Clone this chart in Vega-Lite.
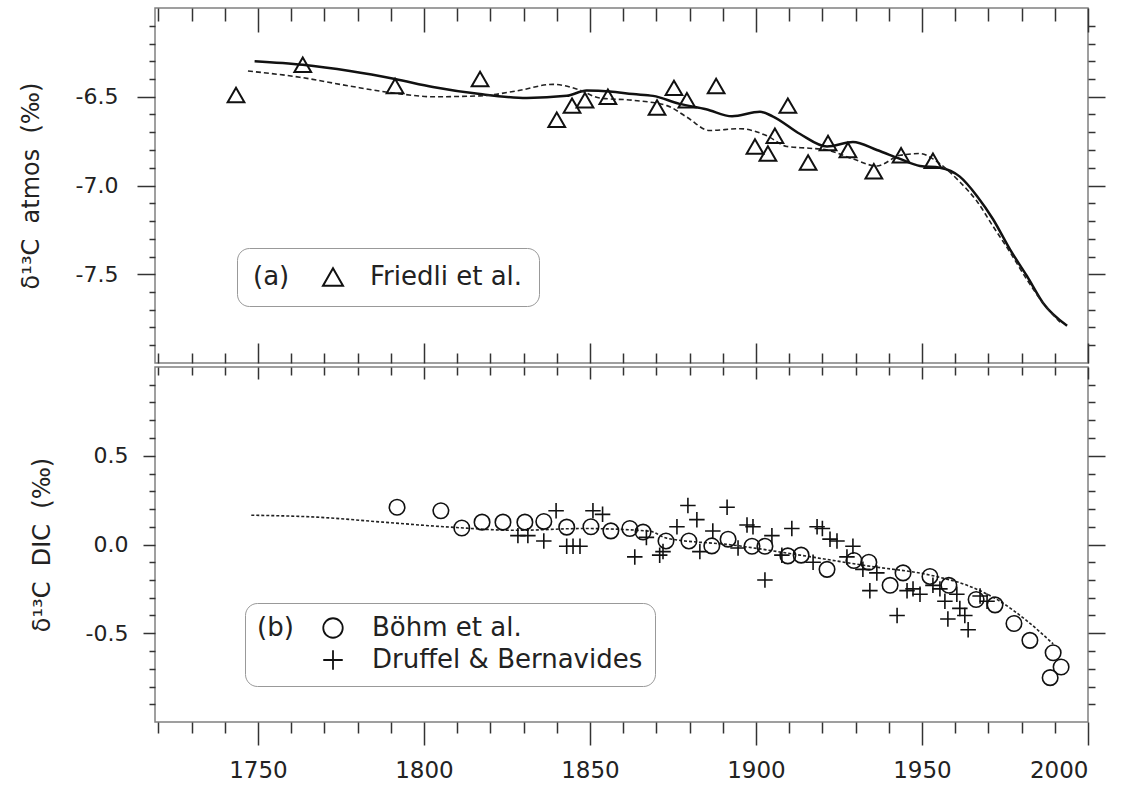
{
  "$schema": "https://vega.github.io/schema/vega-lite/v6.json",
  "background": "white",
  "padding": {"left": 18, "top": 6, "right": 10, "bottom": 0},
  "spacing": 0,
  "resolve": {"scale": {"shape": "independent"}, "legend": {"shape": "independent"}},
  "config": {
    "view": {"stroke": "#808080", "strokeWidth": 1.5},
    "concat": {"spacing": 0},
    "axis": {
      "domain": false, "grid": false, "tickColor": "#333", "tickWidth": 1.5,
      "labelFont": "DejaVu Sans", "labelFontSize": 22, "labelColor": "#222",
      "titleFont": "DejaVu Sans", "titleFontSize": 24, "titleFontWeight": "normal", "titleColor": "#222",
      "labelOverlap": false
    },
    "legend": {
      "labelFont": "DejaVu Sans", "labelFontSize": 26, "labelColor": "#222", "labelLimit": 500,
      "titleFont": "DejaVu Sans", "titleFontSize": 26, "titleFontWeight": "normal", "titleColor": "#222",
      "titleOrient": "left", "titleAnchor": "start", "titleBaseline": "top",
      "strokeColor": "#999", "cornerRadius": 12, "orient": "none"
    }
  },
  "datasets": {
    "atmos_solid": [
      {"year": 1749, "d13c": -6.30}, {"year": 1763.5, "d13c": -6.32}, {"year": 1777.7, "d13c": -6.355},
      {"year": 1791.3, "d13c": -6.40}, {"year": 1802.7, "d13c": -6.445}, {"year": 1816.9, "d13c": -6.485},
      {"year": 1831, "d13c": -6.507}, {"year": 1843, "d13c": -6.495}, {"year": 1849, "d13c": -6.465},
      {"year": 1856, "d13c": -6.47}, {"year": 1863, "d13c": -6.485}, {"year": 1869, "d13c": -6.495},
      {"year": 1877, "d13c": -6.54}, {"year": 1885, "d13c": -6.57}, {"year": 1892.8, "d13c": -6.61},
      {"year": 1901.2, "d13c": -6.585}, {"year": 1905, "d13c": -6.61}, {"year": 1913.3, "d13c": -6.71},
      {"year": 1921.4, "d13c": -6.78}, {"year": 1929.2, "d13c": -6.755}, {"year": 1936.4, "d13c": -6.80},
      {"year": 1943.4, "d13c": -6.85}, {"year": 1949.4, "d13c": -6.89}, {"year": 1955.4, "d13c": -6.90},
      {"year": 1961.4, "d13c": -6.95}, {"year": 1966.6, "d13c": -7.06}, {"year": 1971.4, "d13c": -7.19},
      {"year": 1976.5, "d13c": -7.36}, {"year": 1981.6, "d13c": -7.51}, {"year": 1986.4, "d13c": -7.66},
      {"year": 1993.7, "d13c": -7.79}
    ],
    "atmos_dashed": [
      {"year": 1747, "d13c": -6.355}, {"year": 1762.6, "d13c": -6.39}, {"year": 1777.7, "d13c": -6.44},
      {"year": 1791.3, "d13c": -6.48}, {"year": 1802.7, "d13c": -6.50}, {"year": 1816.9, "d13c": -6.495},
      {"year": 1828, "d13c": -6.467}, {"year": 1838.9, "d13c": -6.43}, {"year": 1846, "d13c": -6.456},
      {"year": 1853, "d13c": -6.507}, {"year": 1863, "d13c": -6.52}, {"year": 1873.2, "d13c": -6.55},
      {"year": 1879.2, "d13c": -6.615}, {"year": 1886, "d13c": -6.69}, {"year": 1895.2, "d13c": -6.68},
      {"year": 1903.3, "d13c": -6.72}, {"year": 1909.3, "d13c": -6.78}, {"year": 1916, "d13c": -6.79},
      {"year": 1921.4, "d13c": -6.80}, {"year": 1929.2, "d13c": -6.85}, {"year": 1936.4, "d13c": -6.89},
      {"year": 1943.4, "d13c": -6.83}, {"year": 1949.4, "d13c": -6.82}, {"year": 1953.3, "d13c": -6.85},
      {"year": 1957.5, "d13c": -6.91}, {"year": 1961.4, "d13c": -6.98}, {"year": 1966.6, "d13c": -7.09},
      {"year": 1971.4, "d13c": -7.23}, {"year": 1976.5, "d13c": -7.375}, {"year": 1981.6, "d13c": -7.53},
      {"year": 1986.4, "d13c": -7.66}, {"year": 1991.6, "d13c": -7.77}
    ],
    "friedli": [
      {"year": 1743.4, "d13c": -6.49, "source": "Friedli et al."},
      {"year": 1763.5, "d13c": -6.32, "source": "Friedli et al."},
      {"year": 1791.3, "d13c": -6.44, "source": "Friedli et al."},
      {"year": 1816.9, "d13c": -6.40, "source": "Friedli et al."},
      {"year": 1840.0, "d13c": -6.63, "source": "Friedli et al."},
      {"year": 1844.6, "d13c": -6.55, "source": "Friedli et al."},
      {"year": 1848.5, "d13c": -6.52, "source": "Friedli et al."},
      {"year": 1855.4, "d13c": -6.50, "source": "Friedli et al."},
      {"year": 1870.2, "d13c": -6.56, "source": "Friedli et al."},
      {"year": 1875.3, "d13c": -6.45, "source": "Friedli et al."},
      {"year": 1879.2, "d13c": -6.52, "source": "Friedli et al."},
      {"year": 1888.0, "d13c": -6.44, "source": "Friedli et al."},
      {"year": 1909.6, "d13c": -6.55, "source": "Friedli et al."},
      {"year": 1899.7, "d13c": -6.78, "source": "Friedli et al."},
      {"year": 1903.6, "d13c": -6.82, "source": "Friedli et al."},
      {"year": 1905.7, "d13c": -6.72, "source": "Friedli et al."},
      {"year": 1915.7, "d13c": -6.87, "source": "Friedli et al."},
      {"year": 1921.7, "d13c": -6.76, "source": "Friedli et al."},
      {"year": 1927.7, "d13c": -6.80, "source": "Friedli et al."},
      {"year": 1935.5, "d13c": -6.92, "source": "Friedli et al."},
      {"year": 1943.7, "d13c": -6.83, "source": "Friedli et al."},
      {"year": 1953.3, "d13c": -6.86, "source": "Friedli et al."}
    ],
    "dic_model": [
      {"year": 1748, "dic": 0.165}, {"year": 1767.8, "dic": 0.154}, {"year": 1787.7, "dic": 0.126},
      {"year": 1807.8, "dic": 0.098}, {"year": 1828, "dic": 0.08}, {"year": 1847.9, "dic": 0.09},
      {"year": 1868, "dic": 0.075}, {"year": 1873, "dic": 0.036}, {"year": 1893, "dic": -0.003},
      {"year": 1913.3, "dic": -0.06}, {"year": 1933.4, "dic": -0.12}, {"year": 1953.3, "dic": -0.176},
      {"year": 1963.6, "dic": -0.23}, {"year": 1973.5, "dic": -0.32}, {"year": 1981.6, "dic": -0.43},
      {"year": 1989.5, "dic": -0.56}
    ],
    "dic_obs": [
      {"year": 1791.9, "dic": 0.21, "source": "Böhm et al."},
      {"year": 1805.1, "dic": 0.19, "source": "Böhm et al."},
      {"year": 1811.4, "dic": 0.093, "source": "Böhm et al."},
      {"year": 1817.5, "dic": 0.126, "source": "Böhm et al."},
      {"year": 1823.8, "dic": 0.126, "source": "Böhm et al."},
      {"year": 1830.4, "dic": 0.126, "source": "Böhm et al."},
      {"year": 1836.1, "dic": 0.13, "source": "Böhm et al."},
      {"year": 1843.0, "dic": 0.098, "source": "Böhm et al."},
      {"year": 1850.3, "dic": 0.10, "source": "Böhm et al."},
      {"year": 1856.3, "dic": 0.077, "source": "Böhm et al."},
      {"year": 1862.0, "dic": 0.09, "source": "Böhm et al."},
      {"year": 1866.0, "dic": 0.07, "source": "Böhm et al."},
      {"year": 1872.9, "dic": 0.02, "source": "Böhm et al."},
      {"year": 1879.8, "dic": 0.02, "source": "Böhm et al."},
      {"year": 1886.7, "dic": -0.008, "source": "Böhm et al."},
      {"year": 1891.6, "dic": 0.03, "source": "Böhm et al."},
      {"year": 1898.8, "dic": -0.01, "source": "Böhm et al."},
      {"year": 1902.7, "dic": -0.01, "source": "Böhm et al."},
      {"year": 1909.6, "dic": -0.064, "source": "Böhm et al."},
      {"year": 1913.6, "dic": -0.06, "source": "Böhm et al."},
      {"year": 1921.4, "dic": -0.14, "source": "Böhm et al."},
      {"year": 1929.5, "dic": -0.09, "source": "Böhm et al."},
      {"year": 1934.0, "dic": -0.10, "source": "Böhm et al."},
      {"year": 1940.4, "dic": -0.23, "source": "Böhm et al."},
      {"year": 1944.3, "dic": -0.16, "source": "Böhm et al."},
      {"year": 1952.4, "dic": -0.18, "source": "Böhm et al."},
      {"year": 1958.1, "dic": -0.23, "source": "Böhm et al."},
      {"year": 1966.3, "dic": -0.31, "source": "Böhm et al."},
      {"year": 1972.0, "dic": -0.34, "source": "Böhm et al."},
      {"year": 1977.7, "dic": -0.445, "source": "Böhm et al."},
      {"year": 1982.5, "dic": -0.54, "source": "Böhm et al."},
      {"year": 1989.5, "dic": -0.61, "source": "Böhm et al."},
      {"year": 1991.9, "dic": -0.69, "source": "Böhm et al."},
      {"year": 1988.6, "dic": -0.75, "source": "Böhm et al."},
      {"year": 1839.8, "dic": 0.19, "source": "Druffel & Bernavides"},
      {"year": 1828.3, "dic": 0.05, "source": "Druffel & Bernavides"},
      {"year": 1831.3, "dic": 0.05, "source": "Druffel & Bernavides"},
      {"year": 1836.1, "dic": 0.02, "source": "Druffel & Bernavides"},
      {"year": 1843.0, "dic": -0.01, "source": "Druffel & Bernavides"},
      {"year": 1844.9, "dic": -0.01, "source": "Druffel & Bernavides"},
      {"year": 1847.0, "dic": -0.01, "source": "Druffel & Bernavides"},
      {"year": 1850.9, "dic": 0.19, "source": "Druffel & Bernavides"},
      {"year": 1853.8, "dic": 0.17, "source": "Druffel & Bernavides"},
      {"year": 1863.5, "dic": -0.07, "source": "Druffel & Bernavides"},
      {"year": 1867.0, "dic": 0.04, "source": "Druffel & Bernavides"},
      {"year": 1871.0, "dic": -0.06, "source": "Druffel & Bernavides"},
      {"year": 1872.0, "dic": -0.04, "source": "Druffel & Bernavides"},
      {"year": 1876.2, "dic": 0.10, "source": "Druffel & Bernavides"},
      {"year": 1879.5, "dic": 0.22, "source": "Druffel & Bernavides"},
      {"year": 1882.2, "dic": 0.14, "source": "Druffel & Bernavides"},
      {"year": 1883.1, "dic": -0.04, "source": "Druffel & Bernavides"},
      {"year": 1887.0, "dic": 0.076, "source": "Druffel & Bernavides"},
      {"year": 1891.3, "dic": 0.21, "source": "Druffel & Bernavides"},
      {"year": 1897.3, "dic": 0.11, "source": "Druffel & Bernavides"},
      {"year": 1899.1, "dic": 0.10, "source": "Druffel & Bernavides"},
      {"year": 1894.6, "dic": -0.02, "source": "Druffel & Bernavides"},
      {"year": 1902.7, "dic": -0.20, "source": "Druffel & Bernavides"},
      {"year": 1904.8, "dic": 0.05, "source": "Druffel & Bernavides"},
      {"year": 1907.8, "dic": -0.06, "source": "Druffel & Bernavides"},
      {"year": 1910.8, "dic": 0.09, "source": "Druffel & Bernavides"},
      {"year": 1918.4, "dic": 0.10, "source": "Druffel & Bernavides"},
      {"year": 1920.0, "dic": 0.09, "source": "Druffel & Bernavides"},
      {"year": 1922.3, "dic": 0.03, "source": "Druffel & Bernavides"},
      {"year": 1924.4, "dic": 0.02, "source": "Druffel & Bernavides"},
      {"year": 1917.2, "dic": -0.10, "source": "Druffel & Bernavides"},
      {"year": 1929.2, "dic": -0.01, "source": "Druffel & Bernavides"},
      {"year": 1927.4, "dic": -0.07, "source": "Druffel & Bernavides"},
      {"year": 1932.2, "dic": -0.14, "source": "Druffel & Bernavides"},
      {"year": 1934.3, "dic": -0.26, "source": "Druffel & Bernavides"},
      {"year": 1936.4, "dic": -0.16, "source": "Druffel & Bernavides"},
      {"year": 1942.5, "dic": -0.40, "source": "Druffel & Bernavides"},
      {"year": 1945.5, "dic": -0.26, "source": "Druffel & Bernavides"},
      {"year": 1947.3, "dic": -0.25, "source": "Druffel & Bernavides"},
      {"year": 1949.4, "dic": -0.28, "source": "Druffel & Bernavides"},
      {"year": 1953.3, "dic": -0.23, "source": "Druffel & Bernavides"},
      {"year": 1955.4, "dic": -0.25, "source": "Druffel & Bernavides"},
      {"year": 1956.9, "dic": -0.32, "source": "Druffel & Bernavides"},
      {"year": 1957.8, "dic": -0.42, "source": "Druffel & Bernavides"},
      {"year": 1960.5, "dic": -0.28, "source": "Druffel & Bernavides"},
      {"year": 1961.4, "dic": -0.36, "source": "Druffel & Bernavides"},
      {"year": 1962.9, "dic": -0.40, "source": "Druffel & Bernavides"},
      {"year": 1963.9, "dic": -0.48, "source": "Druffel & Bernavides"},
      {"year": 1969.6, "dic": -0.32, "source": "Druffel & Bernavides"},
      {"year": 1967.5, "dic": -0.29, "source": "Druffel & Bernavides"}
    ]
  },
  "vconcat": [
    {
      "width": 933,
      "height": 355,
      "layer": [
        {
          "data": {"name": "atmos_solid"},
          "mark": {"type": "line", "interpolate": "monotone", "color": "#111", "strokeWidth": 2.5},
          "encoding": {
            "x": {"field": "year", "type": "quantitative",
              "scale": {"domain": [1719, 2000], "nice": false, "zero": false},
              "axis": {"orient": "bottom", "title": null, "labels": false, "minExtent": 0, "maxExtent": 0,
                "values": [1720,1730,1740,1750,1760,1770,1780,1790,1800,1810,1820,1830,1840,1850,1860,1870,1880,1890,1900,1910,1920,1930,1940,1950,1960,1970,1980,1990,2000],
                "tickSize": {"condition": {"test": "datum.value % 50 === 0", "value": -20}, "value": -10}}},
            "y": {"field": "d13c", "type": "quantitative",
              "scale": {"domain": [-8, -6], "nice": false, "zero": false},
              "axis": {"orient": "left", "title": null, "labels": false, "minExtent": 0,
                "values": [-7.9,-7.8,-7.7,-7.6,-7.5,-7.4,-7.3,-7.2,-7.1,-7,-6.9,-6.8,-6.7,-6.6,-6.5,-6.4,-6.3,-6.2,-6.1],
                "tickSize": {"condition": {"test": "abs(datum.value*2 - round(datum.value*2)) < 0.01", "value": 18}, "value": 6}}}
          }
        },
        {
          "data": {"name": "atmos_dashed"},
          "mark": {"type": "line", "interpolate": "monotone", "color": "#222", "strokeWidth": 1.6, "strokeDash": [5, 3]},
          "encoding": {
            "x": {"field": "year", "type": "quantitative",
              "scale": {"domain": [1719, 2000], "nice": false, "zero": false},
              "axis": {"orient": "top", "title": null, "labels": false, "minExtent": 0, "maxExtent": 0,
                "values": [1720,1730,1740,1750,1760,1770,1780,1790,1800,1810,1820,1830,1840,1850,1860,1870,1880,1890,1900,1910,1920,1930,1940,1950,1960,1970,1980,1990,2000],
                "tickSize": {"condition": {"test": "datum.value % 50 === 0", "value": -24}, "value": -13}}},
            "y": {"field": "d13c", "type": "quantitative",
              "scale": {"domain": [-8, -6], "nice": false, "zero": false},
              "axis": {"orient": "right", "title": null, "labels": false, "minExtent": 0,
                "values": [-7.9,-7.8,-7.7,-7.6,-7.5,-7.4,-7.3,-7.2,-7.1,-7,-6.9,-6.8,-6.7,-6.6,-6.5,-6.4,-6.3,-6.2,-6.1],
                "tickSize": {"condition": {"test": "abs(datum.value*2 - round(datum.value*2)) < 0.01", "value": 17}, "value": 7}}}
          }
        },
        {
          "data": {"name": "friedli"},
          "mark": {"type": "point", "filled": false, "color": "#111", "strokeWidth": 2, "size": 280, "opacity": 1},
          "encoding": {
            "x": {"field": "year", "type": "quantitative", "scale": {"domain": [1719, 2000], "nice": false, "zero": false}, "axis": null},
            "y": {"field": "d13c", "type": "quantitative", "scale": {"domain": [-8, -6], "nice": false, "zero": false},
              "axis": {"orient": "left", "title": "δ¹³C\u00a0\u00a0atmos\u00a0\u00a0(‰)", "titlePadding": 32,
                "ticks": false, "tickSize": 0, "labelPadding": 37, "format": ".1f",
                "values": [-7.5, -7, -6.5],
                "labelExpr": "replace(format(datum.value, '.1f'), '\u2212', '-')"}},
            "shape": {"field": "source", "type": "nominal",
              "scale": {"domain": ["Friedli et al."], "range": ["triangle-up"]},
              "legend": {"title": "(a)", "legendX": 82, "legendY": 240, "padding": 16, "titlePadding": 30,
                "symbolSize": 400, "symbolStrokeWidth": 2, "symbolStrokeColor": "#111", "labelOffset": 24,
                "encode": {"legend": {"update": {"strokeDash": {"value": [3, 3]}}}}}}
          }
        }
      ],
      "resolve": {"axis": {"x": "independent", "y": "independent"}}
    },
    {
      "width": 933,
      "height": 355,
      "layer": [
        {
          "data": {"name": "dic_model"},
          "mark": {"type": "line", "interpolate": "monotone", "color": "#222", "strokeWidth": 1.6, "strokeDash": [3, 2]},
          "encoding": {
            "x": {"field": "year", "type": "quantitative",
              "scale": {"domain": [1719, 2000], "nice": false, "zero": false},
              "axis": {"orient": "bottom", "title": null, "labels": false,
                "values": [1720,1730,1740,1750,1760,1770,1780,1790,1800,1810,1820,1830,1840,1850,1860,1870,1880,1890,1900,1910,1920,1930,1940,1950,1960,1970,1980,1990,2000],
                "tickSize": {"condition": {"test": "datum.value % 50 === 0", "value": 23}, "value": 11}}},
            "y": {"field": "dic", "type": "quantitative",
              "scale": {"domain": [-1, 1], "nice": false, "zero": false},
              "axis": {"orient": "left", "title": null, "labels": false, "minExtent": 0,
                "values": [-0.9,-0.8,-0.7,-0.6,-0.5,-0.4,-0.3,-0.2,-0.1,0,0.1,0.2,0.3,0.4,0.5,0.6,0.7,0.8,0.9],
                "tickSize": {"condition": {"test": "abs(datum.value*2 - round(datum.value*2)) < 0.01", "value": 12}, "value": 6}}}
          }
        },
        {
          "data": {"name": "dic_obs"},
          "mark": {"type": "point", "filled": false, "color": "#111", "strokeWidth": 1.6, "size": 240, "opacity": 1},
          "encoding": {
            "x": {"field": "year", "type": "quantitative",
              "scale": {"domain": [1719, 2000], "nice": false, "zero": false},
              "axis": {"orient": "top", "title": null, "labels": false, "minExtent": 0, "maxExtent": 0,
                "values": [1720,1730,1740,1750,1760,1770,1780,1790,1800,1810,1820,1830,1840,1850,1860,1870,1880,1890,1900,1910,1920,1930,1940,1950,1960,1970,1980,1990,2000],
                "tickSize": {"condition": {"test": "datum.value % 50 === 0", "value": -12}, "value": -8}}},
            "y": {"field": "dic", "type": "quantitative",
              "scale": {"domain": [-1, 1], "nice": false, "zero": false},
              "axis": {"orient": "right", "title": null, "labels": false, "minExtent": 0,
                "values": [-0.9,-0.8,-0.7,-0.6,-0.5,-0.4,-0.3,-0.2,-0.1,0,0.1,0.2,0.3,0.4,0.5,0.6,0.7,0.8,0.9],
                "tickSize": {"condition": {"test": "abs(datum.value*2 - round(datum.value*2)) < 0.01", "value": 17}, "value": 7}}},
            "shape": {"field": "source", "type": "nominal",
              "scale": {"domain": ["Böhm et al.", "Druffel & Bernavides"], "range": ["circle", "M-1,0L1,0M0,-1L0,1"]},
              "legend": {"title": "(b)", "legendX": 90, "legendY": 236, "padding": 12, "titlePadding": 26,
                "symbolSize": 380, "symbolStrokeWidth": 1.8, "symbolStrokeColor": "#111", "labelOffset": 26, "rowPadding": 4,
                "encode": {"legend": {"update": {"strokeDash": {"value": [3, 3]}}}}}}
          }
        },
        {
          "data": {"name": "dic_model"},
          "mark": {"type": "line", "opacity": 0},
          "encoding": {
            "x": {"field": "year", "type": "quantitative",
              "scale": {"domain": [1719, 2000], "nice": false, "zero": false},
              "axis": {"orient": "bottom", "title": null, "format": "d", "labelFontSize": 23,
                "ticks": false, "tickSize": 0, "labelPadding": 37,
                "values": [1750, 1800, 1850, 1900, 1950, 2000]}},
            "y": {"field": "dic", "type": "quantitative",
              "scale": {"domain": [-1, 1], "nice": false, "zero": false},
              "axis": {"orient": "left", "title": "δ¹³C\u00a0\u00a0DIC\u00a0\u00a0(‰)", "titlePadding": 31,
                "ticks": false, "tickSize": 0, "labelPadding": 27,
                "values": [-0.5, 0, 0.5],
                "labelExpr": "replace(format(datum.value, '.1f'), '\u2212', '-')"}}
          }
        }
      ],
      "resolve": {"axis": {"x": "independent", "y": "independent"}}
    }
  ]
}
